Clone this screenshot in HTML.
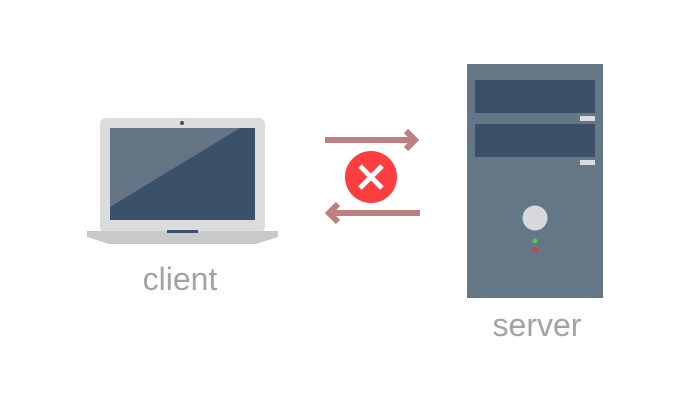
<!DOCTYPE html>
<html><head><style>
body{margin:0;background:#fff;}
</style></head><body>
<svg width="680" height="400" viewBox="0 0 680 400" xmlns="http://www.w3.org/2000/svg">
<rect width="680" height="400" fill="#fff"/>
<!-- laptop -->
<rect x="100" y="118" width="165" height="115" rx="6" fill="#dcdcdc"/>
<rect x="110" y="128" width="145" height="92" fill="#3b5169"/>
<polygon points="110,128 240,128 110,207" fill="#667586"/>
<circle cx="182" cy="123" r="2" fill="#3b5169"/>
<polygon points="87,231 278,231 278,237 256,244 109,244 87,237" fill="#c8c9cb"/>
<rect x="167" y="230" width="31" height="3" fill="#3b5169"/>
<text x="180" y="290" text-anchor="middle" font-family="Liberation Sans, sans-serif" font-size="32" fill="#a3a3a3">client</text>
<!-- arrows -->
<g stroke="#c07f7f" stroke-width="6" fill="none">
<line x1="325" y1="140" x2="414" y2="140"/>
<polyline points="406,131 415,140 406,149"/>
<line x1="331" y1="213" x2="420" y2="213"/>
<polyline points="338,204 329,213 338,222"/>
</g>
<circle cx="371" cy="177" r="26" fill="#fc3e3e"/>
<g stroke="#fff" stroke-width="5"><line x1="360" y1="166" x2="382" y2="188"/><line x1="382" y1="166" x2="360" y2="188"/></g>
<!-- server -->
<rect x="467" y="64" width="136" height="234" fill="#647786"/>
<rect x="475" y="80" width="120" height="33" fill="#3b5169"/>
<rect x="475" y="124" width="120" height="33" fill="#3b5169"/>
<rect x="580" y="116" width="15" height="5" fill="#dcdcdc"/>
<rect x="580" y="160" width="15" height="5" fill="#dcdcdc"/>
<circle cx="535" cy="218" r="12.5" fill="#d7d8dc"/>
<circle cx="535" cy="241" r="2.5" fill="#4ccc4c"/>
<circle cx="535" cy="250" r="2.5" fill="#e0363e"/>
<text x="537" y="336" text-anchor="middle" font-family="Liberation Sans, sans-serif" font-size="32" fill="#a3a3a3">server</text>
</svg>
</body></html>
